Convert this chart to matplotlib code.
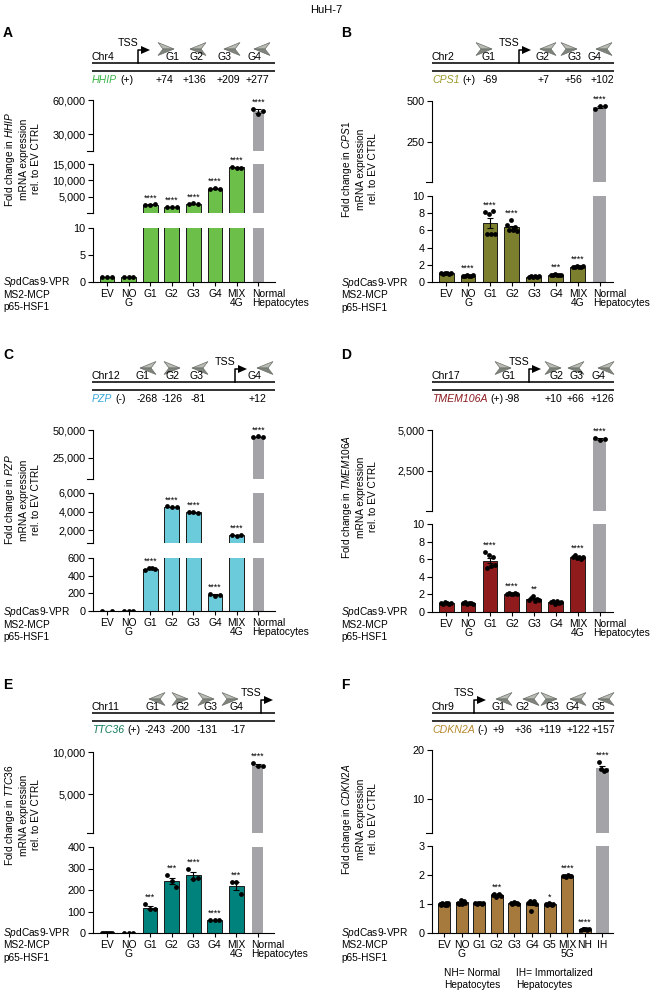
import numpy as np
import matplotlib
matplotlib.use('Agg')
import matplotlib.pyplot as plt
from matplotlib.patches import Polygon
from matplotlib.ticker import FuncFormatter

plt.rcParams['font.family'] = ['Liberation Sans', 'DejaVu Sans']
plt.rcParams['mathtext.fontset'] = 'custom'
plt.rcParams['mathtext.rm'] = 'Liberation Sans'
plt.rcParams['mathtext.it'] = 'Liberation Sans:italic'
plt.rcParams['font.size'] = 7

# ---------------- data ----------------
groups8 = ['EV', 'NO\nG', 'G1', 'G2', 'G3', 'G4', 'MIX\n4G', 'Normal\nHepatocytes']
groups10 = ['EV', 'NO\nG', 'G1', 'G2', 'G3', 'G4', 'G5', 'MIX\n5G', 'NH', 'IH']

# A - HHIP
hhip_pts = [[1.0, 1.0, 1.0], [0.85, 0.9, 0.85], [2600, 2550, 2650], [1750, 1700, 1750],
            [2700, 2950, 2800], [7300, 7600, 7400], [14200, 13800, 13900], [52500, 47500, 50500]]
hhip_sig = ['', '', '****', '****', '****', '****', '****', '****']
hhip_guides = ['G1', 'G2', 'G3', 'G4']
hhip_dirs = [1, -1, -1, -1]
hhip_offsets = ['+74', '+136', '+209', '+277']

# B - CPS1
cps1_pts = [[1.05, 0.95, 1.0, 1.1, 0.95, 1.0], [0.75, 0.7, 0.8, 0.75, 0.7, 0.8],
            [8.1, 5.6, 7.9, 5.6, 8.2, 5.6], [6.6, 6.0, 7.2, 6.0, 6.4, 5.9],
            [0.6, 0.65, 0.55, 0.7, 0.6, 0.65], [0.85, 0.8, 0.9, 0.85, 0.8, 0.85],
            [1.8, 1.75, 1.85, 1.7, 1.8, 1.85], [452, 472, 470]]
cps1_sig = ['', '****', '****', '****', '', '***', '****', '****']
cps1_guides = ['G1', 'G2', 'G3', 'G4']
cps1_dirs = [1, -1, 1, -1]
cps1_offsets = ['-69', '+7', '+56', '+102']

# C - PZP
pzp_pts = [[1.0, 1.0], [1.0, 1.0, 1.0], [460, 490, 485, 480], [4550, 4500, 4450],
           [3950, 3900, 3850], [190, 170, 185], [1450, 1400, 1450], [43500, 44200, 43600]]
pzp_sig = ['', '', '****', '****', '****', '****', '****', '****']
pzp_guides = ['G1', 'G2', 'G3', 'G4']
pzp_dirs = [-1, 1, -1, -1]
pzp_offsets = ['-268', '-126', '-81', '+12']

# D - TMEM106A
tmem_pts = [[1.0, 0.9, 1.1, 1.0, 0.95, 1.05], [1.0, 1.1, 0.95, 1.05, 1.0, 0.9],
            [6.8, 5.0, 6.5, 5.2, 6.3, 5.3], [2.1, 2.2, 2.0, 2.1, 2.2, 2.0],
            [1.4, 1.6, 1.8, 1.3, 1.5, 1.4], [1.1, 1.3, 0.9, 1.2, 1.0, 1.1],
            [6.2, 6.5, 6.1, 6.3, 6.0, 6.2], [4520, 4380, 4450]]
tmem_sig = ['', '', '****', '****', '**', '', '****', '****']
tmem_guides = ['G1', 'G2', 'G3', 'G4']
tmem_dirs = [1, 1, -1, -1]
tmem_offsets = ['-98', '+10', '+66', '+126']

# E - TTC36
ttc_pts = [[0.9, 1.1, 1.0, 1.0, 0.9, 1.1], [1.0, 1.0, 1.0], [135, 110, 110], [270, 240, 215],
           [300, 250, 255], [60, 61, 59], [238, 235, 182], [8700, 8300, 8350]]
ttc_sig = ['', '', '***', '***', '****', '****', '***', '****']
ttc_guides = ['G1', 'G2', 'G3', 'G4']
ttc_dirs = [-1, 1, 1, 1]
ttc_offsets = ['-243', '-200', '-131', '-17']

# F - CDKN2A
cdkn_pts = [[1.0, 0.95, 1.05, 1.0, 0.98, 1.02, 0.95, 1.05], [1.05, 1.0, 1.15, 1.0, 1.1, 1.05],
            [1.02, 1.0, 1.05, 1.03, 1.0, 1.05], [1.3, 1.35, 1.25, 1.3, 1.35, 1.28],
            [1.05, 1.0, 1.08, 1.02, 1.05, 1.0], [1.05, 1.1, 0.75, 1.05, 1.1, 1.0],
            [1.0, 0.98, 1.02, 1.0, 0.97, 1.0], [1.95, 1.98, 1.93, 2.0, 1.95, 1.97],
            [0.12, 0.15, 0.13, 0.14, 0.12, 0.15], [17.5, 16.2, 15.6, 16.0]]
cdkn_sig = ['', '', '', '***', '', '', '*', '****', '****', '****']
cdkn_guides = ['G1', 'G2', 'G3', 'G4', 'G5']
cdkn_dirs = [-1, -1, 1, -1, -1]
cdkn_offsets = ['+9', '+36', '+119', '+122', '+157']

W, H = 652, 992
fig = plt.figure(figsize=(W / 100, H / 100), dpi=100)

ov = fig.add_axes([0, 0, 1, 1])
ov.set_xlim(0, W)
ov.set_ylim(H, 0)
ov.axis('off')
ov.set_zorder(10)

GREY = '#a4a4a8'
DFS = 7.6  # diagram font size
XFS = 7.4  # x tick label size
fmt = FuncFormatter(lambda v, p: f'{v:,.0f}')


def px_axes(x0, y0, x1, y1):
    return fig.add_axes([x0 / W, 1 - y1 / H, (x1 - x0) / W, (y1 - y0) / H])


def chevron(cx, cy, d):
    tip = (cx + 8 * d, cy)
    up = (cx - 8 * d, cy - 6.5)
    notch = (cx - 3 * d, cy)
    lo = (cx - 8 * d, cy + 6.5)
    ov.add_patch(Polygon([tip, up, notch], closed=True, fc='#b8bcb5', ec='#6b7069', lw=0.5))
    ov.add_patch(Polygon([tip, notch, lo], closed=True, fc='#7e837c', ec='#6b7069', lw=0.5))


def diagram(x0, x1, y, chrom, gene, strand, gcolor, guides, dirs, offsets, gx, lx, nx, tss_x):
    ov.plot([x0, x1], [y, y], color='#222222', lw=1.3, solid_capstyle='butt')
    ov.plot([x0, x1], [y + 8, y + 8], color='#222222', lw=1.3, solid_capstyle='butt')
    ov.text(x0, y - 1, chrom, ha='left', va='bottom', fontsize=DFS)
    ov.plot([tss_x, tss_x, tss_x + 4], [y, y - 13, y - 13], color='k', lw=1.1)
    ov.add_patch(Polygon([(tss_x + 3, y - 17), (tss_x + 12, y - 13), (tss_x + 3, y - 9)],
                         closed=True, fc='k', ec='none'))
    ov.text(tss_x - 10, y - 15, 'TSS', ha='center', va='bottom', fontsize=DFS)
    for name, d, off, cx, tx, ox in zip(guides, dirs, offsets, gx, lx, nx):
        chevron(cx, y - 14, d)
        ov.text(tx, y - 1, name, ha='center', va='bottom', fontsize=DFS)
        ov.text(ox, y + 17, off, ha='center', va='center', fontsize=DFS)
    t = ov.text(x0, y + 17, gene, color=gcolor, style='italic', ha='left', va='center', fontsize=DFS)
    ov.annotate(strand, xy=(1, 0.5), xycoords=t, xytext=(2, 0), textcoords='offset points',
                ha='left', va='center', fontsize=DFS)


def bars(xl, xr, segs, labels, pts, sig, color, n_grey, grey_w, xlim):
    n = len(labels)
    x = np.arange(n)
    means = np.array([np.mean(p) for p in pts])
    sems = np.array([np.std(p, ddof=1) / np.sqrt(len(p)) for p in pts])
    cols = [color] * (n - n_grey) + [GREY] * n_grey
    edges = ['#1a1a1a'] * (n - n_grey) + ['none'] * n_grey
    widths = [0.68] * (n - n_grey) + [grey_w] * n_grey
    axes = []
    for k, (ya, yb, lo, hi, ticks) in enumerate(segs):
        ax = px_axes(xl, ya, xr, yb)
        ax.bar(x, means, width=widths, color=cols, edgecolor=edges, linewidth=0.7)
        inside = [(lo <= m <= hi) for m in means]
        if any(inside):
            xi = x[inside]
            ax.errorbar(xi, means[inside], yerr=sems[inside], fmt='none', ecolor='k',
                        elinewidth=0.8, capsize=2.5, capthick=0.8, zorder=3)
        for i, p in enumerate(pts):
            p = np.asarray(p, dtype=float)
            off = np.linspace(-0.22, 0.22, len(p)) if len(p) > 1 else np.zeros(1)
            keep = (p >= lo) & (p <= hi)
            if keep.any():
                ax.scatter(i + off[keep], p[keep], s=12, color='k', zorder=4, linewidths=0)
        ax.set_xlim(*xlim)
        ax.set_ylim(lo, hi)
        ax.set_yticks(ticks)
        ax.yaxis.set_major_formatter(fmt)
        ax.spines[['top', 'right']].set_visible(False)
        ax.spines['left'].set_linewidth(0.8)
        ax.tick_params(axis='y', length=3.5, width=0.8, pad=2, labelsize=7.8)
        ax.patch.set_visible(False)
        if k < len(segs) - 1:
            ax.spines['bottom'].set_visible(False)
            ax.set_xticks([])
            ax.plot([-0.035, 0.0], [lo, lo], transform=ax.get_yaxis_transform(),
                    clip_on=False, color='k', lw=0.8)
        else:
            ax.spines['bottom'].set_linewidth(0.8)
            shown = list(labels)
            long_last = labels[-1].startswith('Normal')
            if long_last:
                shown[-1] = ''
            ax.set_xticks(x, shown)
            ax.tick_params(axis='x', length=3, width=0.8, pad=2, labelsize=XFS)
            for t in ax.get_xticklabels():
                t.set_linespacing(0.9)
            if long_last:
                ax.annotate(labels[-1], xy=(x[-1] - 0.3, 0), xycoords=('data', 'axes fraction'),
                            xytext=(0, -5), textcoords='offset points', ha='left', va='top',
                            fontsize=XFS, linespacing=0.9)
        axes.append(ax)
    for i, s in enumerate(sig):
        if not s:
            continue
        top = max(max(pts[i]), means[i] + sems[i])
        target = axes[-1]
        for ax, (ya, yb, lo, hi, ticks) in zip(axes, segs):
            if lo <= top <= hi:
                target = ax
                break
        target.annotate(s, (i, top), xytext=(0, 1.5), textcoords='offset points',
                        ha='center', va='bottom', fontsize=6.3)


def side_text(x, y0, ylab, ylab_xy):
    fig.text(ylab_xy[0] / W, 1 - ylab_xy[1] / H, ylab, rotation=90, ha='center', va='center',
             multialignment='center', fontsize=7.3)
    for j, s in enumerate([r'$\it{Sp}$dCas9-VPR', 'MS2-MCP', 'p65-HSF1']):
        fig.text(x / W, 1 - (y0 + 12.5 * j) / H, s, ha='left', va='center', fontsize=7.3)


fig.text(0.5, 1 - 10 / H, 'HuH-7', ha='center', va='center', fontsize=8)
for letter, lx, ly in [('A', 3, 33), ('B', 341, 33), ('C', 3, 355), ('D', 341, 355),
                       ('E', 3, 685), ('F', 341, 685)]:
    fig.text(lx / W, 1 - ly / H, letter, ha='left', va='center', fontsize=10, fontweight='bold')

# A
diagram(92, 275, 63, 'Chr4', 'HHIP', '(+)', '#3db54a', hhip_guides, hhip_dirs, hhip_offsets,
        [166, 198, 232, 262], [173, 196, 225, 254], [164, 194, 228, 257], 138)
bars(93, 275, [(100, 151, 15000, 60000, [30000, 60000]),
               (164, 213, 10, 15000, [5000, 10000, 15000]),
               (228, 282, 0, 10, [0, 5, 10])],
     groups8, hhip_pts, hhip_sig, '#6cc04a', 1, 0.52, (-0.65, 7.78))
side_text(3, 282, 'Fold change in $\\it{HHIP}$\nmRNA expression\nrel. to EV CTRL', (22, 159))

# B
diagram(432, 614, 63, 'Chr2', 'CPS1', '(+)', '#9a9b2c', cps1_guides, cps1_dirs, cps1_offsets,
        [484, 548, 569, 604], [489, 543, 574, 594], [490, 544, 573, 602], 519)
bars(432, 613, [(101, 182, 10, 500, [250, 500]),
                (196, 282, 0, 10, [0, 2, 4, 6, 8, 10])],
     groups8, cps1_pts, cps1_sig, '#7c7f2e', 1, 0.6, (-0.64, 7.6))
side_text(341, 283, 'Fold change in $\\it{CPS1}$\nmRNA expression\nrel. to EV CTRL', (359, 169))

# C
diagram(92, 275, 382, 'Chr12', 'PZP', '(-)', '#3aa8dc', pzp_guides, pzp_dirs, pzp_offsets,
        [148, 172, 200, 265], [143, 173, 196, 255], [147, 172, 198, 257], 235)
bars(93, 275, [(430, 479, 6000, 50000, [25000, 50000]),
               (493, 543, 600, 6000, [2000, 4000, 6000]),
               (558, 611, 0, 600, [0, 200, 400, 600])],
     groups8, pzp_pts, pzp_sig, '#6ccbdb', 1, 0.52, (-0.65, 7.78))
side_text(3, 612, 'Fold change in $\\it{PZP}$\nmRNA expression\nrel. to EV CTRL', (22, 500))

# D
diagram(432, 614, 382, 'Chr17', 'TMEM106A', '(+)', '#8b1a1f', tmem_guides, tmem_dirs, tmem_offsets,
        [503, 553, 576, 606], [508, 556, 576, 598], [512, 553, 575, 602], 529)
bars(432, 613, [(430, 511, 10, 5000, [2500, 5000]),
                (524, 612, 0, 10, [0, 2, 4, 6, 8, 10])],
     groups8, tmem_pts, tmem_sig, '#8f1b1d', 1, 0.6, (-0.64, 7.6))
side_text(341, 612, 'Fold change in $\\it{TMEM106A}$\nmRNA expression\nrel. to EV CTRL', (359, 497))

# E
diagram(92, 275, 713, 'Chr11', 'TTC36', '(+)', '#127a5a', ttc_guides, ttc_dirs, ttc_offsets,
        [157, 180, 206, 230], [152, 183, 210, 237], [155, 180, 207, 238], 261)
bars(93, 274, [(752, 833, 400, 10000, [5000, 10000]),
               (847, 933, 0, 400, [0, 100, 200, 300, 400])],
     groups8, ttc_pts, ttc_sig, '#00827c', 1, 0.52, (-0.65, 7.75))
side_text(3, 933, 'Fold change in $\\it{TTC36}$\nmRNA expression\nrel. to EV CTRL', (22, 815))

# F
diagram(432, 614, 713, 'Chr9', 'CDKN2A', '(-)', '#b5892e', cdkn_guides, cdkn_dirs, cdkn_offsets,
        [504, 531, 549, 578, 606], [499, 523, 553, 572, 599], [499, 523, 550, 578, 603], 474)
bars(432, 613, [(750, 833, 3, 20, [10, 20]),
                (846, 933, 0, 3, [0, 1, 2, 3])],
     groups10, cdkn_pts, cdkn_sig, '#a57a3c', 1, 0.7, (-0.68, 9.6))
side_text(341, 933, 'Fold change in $\\it{CDKN2A}$\nmRNA expression\nrel. to EV CTRL', (359, 819))
fig.text(444 / W, 1 - 979 / H, 'NH= Normal\nHepatocytes', ha='left', va='center', fontsize=7.3)
fig.text(516 / W, 1 - 979 / H, 'IH= Immortalized\nHepatocytes', ha='left', va='center', fontsize=7.3)

fig.savefig('out.png', dpi=100)
